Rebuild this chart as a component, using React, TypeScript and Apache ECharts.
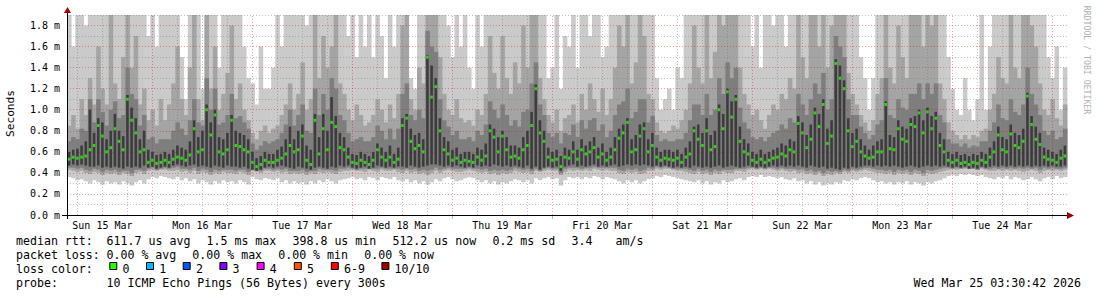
import React, { useEffect, useRef } from "react";
import * as echarts from "echarts";

// hours since Sun 15 Mar 00:00 of the first hourly sample
const startHour = 4;
const xMin = 3.5;
const xMax = 243.5;
const yMax = 1.9;

// median rtt (ms), one value per hour
const medianRtt = [
  0.53,0.55,0.54,0.55,0.56,0.62,0.66,0.85,0.75,0.60,0.64,0.82,0.70,0.62,1.10,0.90,0.78,0.60,0.62,0.50,0.52,0.49,0.50,0.52,
  0.50,0.53,0.55,0.54,0.52,0.57,0.82,0.60,0.62,1.00,0.76,0.95,0.60,0.58,0.62,0.90,0.66,0.65,0.62,0.60,0.50,0.46,0.48,0.52,
  0.50,0.50,0.52,0.54,0.58,0.66,0.60,0.62,0.75,0.52,0.48,0.90,0.58,0.82,0.62,0.88,0.84,0.64,0.62,0.55,0.50,0.49,0.52,0.50,
  0.48,0.52,0.62,0.55,0.52,0.55,0.50,0.53,0.85,0.92,0.70,0.63,0.66,0.60,1.50,1.12,1.22,0.80,0.62,0.58,0.52,0.54,0.50,0.52,
  0.51,0.50,0.55,0.52,0.56,0.80,0.74,0.60,0.75,0.62,0.55,0.56,0.54,0.62,0.66,0.85,1.20,0.78,0.70,0.55,0.52,0.53,0.46,0.55,
  0.54,0.60,0.53,0.62,0.58,0.60,0.64,0.55,0.58,0.52,0.55,0.62,0.73,0.78,0.88,0.60,0.62,0.75,0.82,0.60,0.66,0.55,0.52,0.54,
  0.53,0.52,0.54,0.50,0.55,0.58,0.80,0.72,0.66,0.80,0.62,0.65,1.00,0.82,1.17,0.93,1.10,0.70,0.60,0.58,0.52,0.50,0.53,0.50,
  0.52,0.54,0.55,0.58,0.56,0.62,0.60,0.87,0.78,0.64,0.72,0.97,0.84,1.05,0.68,0.75,1.44,1.30,1.20,0.80,0.65,0.70,0.60,0.56,
  0.54,0.55,0.60,0.60,1.05,0.63,0.62,0.82,0.72,0.70,0.86,0.84,0.97,0.78,0.98,0.82,0.92,0.66,0.60,0.52,0.50,0.52,0.49,0.50,
  0.48,0.50,0.49,0.52,0.50,0.55,0.60,0.76,0.62,0.60,0.77,0.66,0.64,0.70,1.13,0.86,0.72,0.67,0.55,0.53,0.52,0.50,0.54,0.56,
];

// smoke: sorted ping ranks (ms), one value per hour
const pingMin = [
  0.36,0.35,0.33,0.34,0.32,0.30,0.33,0.31,0.29,0.32,0.30,0.31,0.29,0.32,0.30,0.28,0.31,0.33,0.30,0.34,0.36,0.35,0.37,0.36,
  0.35,0.34,0.36,0.33,0.35,0.32,0.34,0.30,0.33,0.31,0.29,0.32,0.30,0.33,0.31,0.32,0.30,0.33,0.31,0.29,0.36,0.34,0.33,0.35,
  0.34,0.33,0.35,0.31,0.33,0.30,0.32,0.30,0.31,0.29,0.32,0.30,0.33,0.31,0.34,0.32,0.30,0.33,0.34,0.35,0.36,0.34,0.35,0.33,
  0.36,0.35,0.33,0.36,0.35,0.34,0.36,0.33,0.32,0.34,0.31,0.33,0.30,0.32,0.29,0.31,0.34,0.32,0.35,0.36,0.34,0.32,0.33,0.35,
  0.36,0.35,0.33,0.31,0.33,0.30,0.32,0.29,0.31,0.30,0.32,0.34,0.33,0.31,0.33,0.30,0.35,0.33,0.35,0.36,0.34,0.35,0.28,0.33,
  0.36,0.35,0.36,0.34,0.36,0.35,0.37,0.36,0.34,0.36,0.35,0.34,0.32,0.30,0.33,0.31,0.33,0.30,0.32,0.34,0.35,0.37,0.36,0.38,
  0.37,0.36,0.35,0.34,0.33,0.32,0.31,0.33,0.30,0.32,0.29,0.31,0.30,0.33,0.31,0.32,0.34,0.35,0.33,0.36,0.37,0.36,0.38,0.36,
  0.37,0.36,0.35,0.36,0.34,0.33,0.35,0.32,0.33,0.30,0.32,0.29,0.31,0.28,0.30,0.29,0.31,0.30,0.33,0.32,0.34,0.33,0.35,0.36,
  0.35,0.33,0.31,0.32,0.30,0.31,0.29,0.31,0.30,0.32,0.29,0.31,0.30,0.28,0.31,0.30,0.32,0.33,0.35,0.37,0.38,0.37,0.39,0.38,
  0.39,0.38,0.37,0.38,0.36,0.35,0.34,0.36,0.35,0.37,0.34,0.36,0.35,0.33,0.34,0.36,0.34,0.32,0.35,0.36,0.34,0.37,0.35,0.36,
];
const ping2 = [
  0.43,0.42,0.41,0.42,0.40,0.39,0.41,0.40,0.38,0.40,0.39,0.40,0.38,0.40,0.39,0.37,0.40,0.41,0.39,0.42,0.43,0.42,0.43,0.43,
  0.42,0.42,0.43,0.41,0.42,0.40,0.42,0.39,0.41,0.40,0.38,0.40,0.39,0.41,0.40,0.40,0.39,0.41,0.40,0.38,0.42,0.41,0.40,0.42,
  0.42,0.41,0.42,0.40,0.41,0.39,0.40,0.39,0.40,0.38,0.40,0.39,0.41,0.40,0.41,0.40,0.39,0.41,0.42,0.42,0.43,0.42,0.42,0.41,
  0.43,0.42,0.41,0.43,0.42,0.42,0.43,0.41,0.40,0.42,0.40,0.41,0.39,0.40,0.38,0.40,0.42,0.40,0.42,0.43,0.42,0.41,0.41,0.42,
  0.43,0.42,0.41,0.40,0.41,0.39,0.40,0.38,0.40,0.39,0.40,0.42,0.41,0.40,0.41,0.39,0.42,0.41,0.42,0.43,0.42,0.42,0.38,0.41,
  0.43,0.42,0.43,0.42,0.43,0.42,0.44,0.43,0.42,0.43,0.42,0.42,0.40,0.39,0.41,0.40,0.41,0.39,0.40,0.42,0.42,0.44,0.43,0.44,
  0.44,0.43,0.42,0.42,0.41,0.40,0.39,0.41,0.39,0.40,0.38,0.40,0.39,0.41,0.40,0.40,0.42,0.42,0.41,0.43,0.44,0.43,0.44,0.43,
  0.44,0.43,0.42,0.43,0.42,0.41,0.42,0.40,0.41,0.39,0.40,0.38,0.40,0.37,0.39,0.38,0.40,0.39,0.41,0.40,0.42,0.41,0.42,0.43,
  0.42,0.41,0.40,0.40,0.39,0.40,0.38,0.40,0.39,0.40,0.38,0.40,0.39,0.37,0.40,0.39,0.40,0.41,0.42,0.43,0.44,0.43,0.44,0.44,
  0.44,0.44,0.43,0.44,0.43,0.42,0.42,0.43,0.42,0.43,0.42,0.43,0.42,0.41,0.42,0.43,0.42,0.40,0.42,0.43,0.42,0.43,0.42,0.43,
];
const ping3 = [
  0.45,0.45,0.44,0.45,0.43,0.42,0.44,0.43,0.41,0.43,0.42,0.43,0.41,0.42,0.42,0.40,0.43,0.43,0.42,0.44,0.45,0.43,0.44,0.45,
  0.44,0.45,0.46,0.44,0.44,0.43,0.45,0.42,0.44,0.43,0.41,0.43,0.42,0.43,0.43,0.43,0.42,0.43,0.43,0.41,0.43,0.42,0.42,0.44,
  0.44,0.43,0.44,0.43,0.44,0.42,0.42,0.42,0.43,0.41,0.42,0.42,0.44,0.43,0.43,0.43,0.42,0.44,0.44,0.45,0.44,0.43,0.44,0.44,
  0.44,0.44,0.44,0.45,0.44,0.44,0.44,0.44,0.43,0.44,0.43,0.44,0.42,0.43,0.42,0.43,0.45,0.43,0.44,0.45,0.44,0.44,0.44,0.44,
  0.45,0.44,0.44,0.43,0.44,0.42,0.43,0.42,0.43,0.42,0.43,0.45,0.44,0.43,0.44,0.42,0.44,0.42,0.44,0.45,0.44,0.44,0.40,0.44,
  0.45,0.45,0.45,0.44,0.45,0.45,0.46,0.45,0.45,0.45,0.45,0.45,0.43,0.42,0.44,0.43,0.44,0.42,0.43,0.45,0.44,0.46,0.45,0.46,
  0.45,0.44,0.44,0.44,0.44,0.43,0.42,0.44,0.42,0.43,0.41,0.43,0.42,0.43,0.43,0.43,0.44,0.44,0.44,0.45,0.45,0.44,0.45,0.44,
  0.45,0.45,0.44,0.45,0.44,0.44,0.44,0.43,0.44,0.42,0.43,0.41,0.42,0.40,0.42,0.41,0.42,0.41,0.43,0.42,0.44,0.43,0.44,0.45,
  0.45,0.44,0.43,0.43,0.42,0.43,0.41,0.43,0.42,0.43,0.41,0.43,0.42,0.40,0.43,0.42,0.43,0.44,0.45,0.45,0.44,0.45,0.44,0.45,
  0.44,0.44,0.43,0.45,0.44,0.44,0.45,0.44,0.45,0.44,0.45,0.44,0.45,0.44,0.45,0.44,0.45,0.43,0.45,0.44,0.45,0.44,0.44,0.45,
];
const ping4 = [
  0.47,0.48,0.47,0.48,0.47,0.46,0.46,0.47,0.45,0.46,0.45,0.46,0.45,0.44,0.46,0.45,0.46,0.45,0.47,0.45,0.46,0.44,0.45,0.46,
  0.45,0.47,0.48,0.47,0.46,0.47,0.48,0.46,0.47,0.46,0.45,0.47,0.46,0.45,0.47,0.46,0.46,0.45,0.46,0.44,0.43,0.42,0.43,0.45,
  0.46,0.45,0.46,0.47,0.46,0.45,0.44,0.46,0.45,0.44,0.43,0.45,0.46,0.45,0.44,0.46,0.45,0.47,0.46,0.47,0.45,0.44,0.45,0.46,
  0.44,0.45,0.47,0.46,0.45,0.46,0.45,0.46,0.46,0.45,0.47,0.46,0.45,0.46,0.47,0.48,0.48,0.47,0.46,0.47,0.46,0.47,0.46,0.45,
  0.46,0.45,0.47,0.46,0.47,0.46,0.48,0.47,0.46,0.47,0.46,0.47,0.46,0.45,0.47,0.44,0.46,0.43,0.45,0.46,0.45,0.46,0.42,0.46,
  0.47,0.48,0.46,0.47,0.46,0.47,0.48,0.46,0.47,0.46,0.47,0.48,0.46,0.47,0.48,0.47,0.48,0.47,0.48,0.47,0.46,0.47,0.46,0.47,
  0.46,0.45,0.46,0.45,0.46,0.45,0.47,0.46,0.45,0.46,0.45,0.46,0.47,0.45,0.46,0.47,0.46,0.45,0.46,0.47,0.46,0.45,0.46,0.45,
  0.46,0.47,0.46,0.47,0.46,0.47,0.46,0.47,0.46,0.45,0.47,0.46,0.45,0.46,0.44,0.45,0.44,0.43,0.45,0.44,0.46,0.45,0.46,0.47,
  0.47,0.46,0.47,0.46,0.47,0.46,0.47,0.46,0.45,0.46,0.47,0.46,0.45,0.46,0.47,0.46,0.47,0.46,0.47,0.46,0.45,0.46,0.45,0.46,
  0.44,0.45,0.44,0.46,0.45,0.46,0.47,0.46,0.47,0.46,0.47,0.46,0.47,0.46,0.47,0.46,0.47,0.46,0.47,0.46,0.47,0.46,0.46,0.47,
];
const ping7 = [
  0.60,0.62,0.63,0.66,0.70,1.00,0.78,0.92,0.88,0.72,0.80,0.96,0.80,0.75,1.14,1.02,0.92,0.72,0.80,0.62,0.60,0.57,0.58,0.60,
  0.58,0.62,0.66,0.64,0.62,0.70,0.90,0.74,0.80,1.05,0.88,1.00,0.74,0.72,0.78,0.95,0.80,0.78,0.76,0.72,0.60,0.54,0.56,0.60,
  0.58,0.58,0.62,0.65,0.72,0.84,0.72,0.80,0.86,0.66,0.62,0.96,0.74,0.96,0.80,1.12,0.94,0.78,0.74,0.64,0.58,0.57,0.60,0.58,
  0.56,0.60,0.68,0.64,0.60,0.66,0.58,0.64,0.92,0.96,0.82,0.76,0.78,0.72,1.52,1.42,1.30,0.92,0.74,0.70,0.62,0.64,0.58,0.60,
  0.60,0.58,0.64,0.62,0.68,0.86,0.82,0.74,0.80,0.74,0.66,0.66,0.64,0.74,0.80,0.98,1.24,0.90,0.80,0.64,0.60,0.62,0.56,0.64,
  0.62,0.70,0.62,0.72,0.66,0.70,0.74,0.64,0.68,0.60,0.64,0.74,0.82,0.86,0.92,0.72,0.76,0.86,0.88,0.72,0.78,0.64,0.60,0.62,
  0.62,0.60,0.62,0.58,0.64,0.70,0.84,0.86,0.78,0.92,0.76,0.80,1.05,0.96,1.20,1.08,1.14,0.84,0.72,0.68,0.60,0.58,0.62,0.58,
  0.60,0.62,0.64,0.68,0.66,0.72,0.70,0.94,0.88,0.76,0.86,1.02,0.96,1.10,0.82,0.90,1.48,1.42,1.28,0.92,0.78,0.82,0.72,0.66,
  0.62,0.66,0.70,0.72,1.08,0.76,0.74,0.90,0.84,0.82,0.92,0.94,1.00,0.90,1.02,0.94,0.98,0.78,0.72,0.60,0.58,0.60,0.57,0.58,
  0.56,0.58,0.57,0.60,0.58,0.64,0.70,0.84,0.74,0.72,0.86,0.78,0.76,0.82,1.16,0.94,0.84,0.78,0.64,0.62,0.60,0.58,0.62,0.66,
];
const ping8 = [
  0.70,0.74,0.72,0.82,0.80,1.10,0.88,1.10,0.98,0.85,1.00,1.08,0.92,0.95,1.40,1.15,1.10,0.85,0.95,0.72,0.74,0.68,0.72,0.72,
  0.72,0.80,0.88,0.82,0.76,0.90,1.10,0.88,0.85,1.30,1.00,1.20,0.86,0.88,0.95,1.15,0.92,0.94,0.88,0.82,0.68,0.62,0.66,0.70,
  0.68,0.70,0.72,0.78,0.86,1.00,0.85,0.95,1.05,0.80,0.78,1.20,0.95,1.15,1.00,1.30,1.20,0.95,0.90,0.78,0.70,0.72,0.74,0.70,
  0.70,0.74,0.85,0.80,0.72,0.82,0.72,0.82,1.15,1.25,0.95,0.90,1.00,0.92,1.75,1.60,1.55,1.10,0.90,0.84,0.76,0.80,0.72,0.72,
  0.74,0.70,0.80,0.76,0.86,1.08,1.00,0.92,1.05,0.95,0.85,0.90,0.84,0.98,1.00,1.25,1.45,1.05,0.95,0.78,0.74,0.78,0.68,0.78,
  0.76,0.86,0.74,0.90,0.82,0.90,0.92,0.80,0.86,0.74,0.80,0.95,1.05,1.08,1.20,0.92,0.98,1.10,1.10,0.88,0.94,0.76,0.70,0.72,
  0.70,0.70,0.72,0.72,0.78,0.90,1.05,1.05,0.95,1.15,0.95,1.00,1.30,1.15,1.45,1.30,1.40,1.02,0.88,0.82,0.74,0.72,0.74,0.70,
  0.74,0.78,0.80,0.86,0.82,0.92,0.88,1.15,1.05,0.95,1.10,1.25,1.15,1.35,1.00,1.10,1.70,1.60,1.50,1.10,0.95,0.95,0.84,0.78,
  0.72,0.76,0.86,0.90,1.30,0.95,0.92,1.10,1.02,1.00,1.15,1.15,1.25,1.10,1.25,1.15,1.25,0.95,0.88,0.72,0.68,0.68,0.65,0.68,
  0.64,0.66,0.65,0.70,0.70,0.80,0.88,1.05,0.92,0.90,1.10,0.98,0.95,1.05,1.40,1.15,1.05,0.95,0.80,0.76,0.80,0.72,0.74,0.82,
];
const ping9 = [
  0.85,0.95,0.82,1.10,0.95,1.30,1.05,1.60,1.20,1.05,2.20,1.25,1.10,1.50,2.20,1.40,1.70,1.05,1.20,0.90,1.00,0.85,1.10,0.90,
  1.05,1.25,1.60,1.10,0.95,1.40,2.20,1.10,0.90,2.20,1.20,1.60,1.00,1.15,1.35,1.80,1.10,1.25,1.00,0.90,0.78,0.72,0.80,0.85,
  0.78,0.82,0.85,0.95,1.05,1.25,1.00,1.15,1.45,1.00,1.10,2.20,1.30,1.70,1.40,1.60,2.20,1.25,1.15,1.00,0.90,1.05,0.95,0.85,
  0.88,0.95,1.10,1.00,0.88,1.05,0.92,1.15,1.80,2.20,1.10,1.00,1.40,1.25,2.20,2.20,2.20,1.50,1.15,1.00,0.95,1.10,0.92,0.88,
  0.90,0.85,1.00,0.95,1.15,1.70,1.35,1.20,1.70,1.30,1.15,1.45,1.25,1.80,1.40,2.20,2.20,1.30,1.10,0.95,0.88,1.00,0.80,0.92,
  0.95,1.05,0.88,1.15,1.00,1.25,1.10,0.98,1.20,0.95,1.10,1.40,1.80,1.60,2.20,1.25,1.45,1.90,1.70,1.15,1.10,0.88,0.80,0.78,
  0.80,0.85,0.82,0.90,1.00,1.25,1.80,1.40,1.25,2.20,1.30,1.55,2.20,1.80,2.20,2.20,2.20,1.40,1.15,1.05,0.95,1.00,0.90,0.82,
  0.95,1.05,1.00,1.15,1.10,1.30,1.20,1.90,1.50,1.30,2.20,2.20,1.60,2.20,1.40,1.80,2.20,2.20,2.20,1.35,1.15,1.05,0.95,0.88,
  0.80,0.90,1.15,1.30,2.20,1.40,1.25,1.80,1.50,1.30,2.20,1.90,2.20,1.60,2.20,1.80,2.20,1.25,1.10,0.88,0.80,0.76,0.72,0.76,
  0.72,0.76,0.74,0.80,0.82,1.00,1.15,1.50,1.30,1.25,2.20,1.40,1.30,1.90,2.20,1.80,1.60,1.25,1.00,0.95,1.10,0.92,0.85,1.05,
];
const pingMax = [
  2.2,1.6,2.2,2.2,1.8,2.2,2.2,2.2,2.2,1.9,2.2,2.2,2.2,2.2,2.2,2.2,2.2,2.2,2.2,1.7,2.2,1.6,2.2,2.2,
  2.2,2.2,2.2,1.5,1.1,2.2,2.2,2.2,1.2,2.2,2.2,2.2,1.4,2.2,2.2,2.2,2.2,2.2,1.6,1.3,1.25,1.05,1.6,1.2,
  1.2,1.4,2.2,1.6,2.2,2.2,1.9,2.2,2.2,1.8,2.2,2.2,2.2,2.2,2.2,2.2,2.2,2.2,2.2,1.7,2.2,1.5,2.2,1.6,
  2.2,1.5,2.2,1.7,1.3,2.2,1.6,2.2,2.2,2.2,1.3,1.2,2.2,2.2,2.2,2.2,2.2,2.2,2.2,1.8,1.5,2.2,1.6,1.9,
  1.4,1.2,2.2,1.6,2.2,2.2,2.2,2.2,2.2,2.2,1.9,2.2,2.2,2.2,2.2,2.2,2.2,2.2,2.2,1.3,1.4,2.2,1.2,1.7,
  1.6,2.2,1.4,2.2,2.2,1.7,2.2,2.2,1.5,1.6,2.2,2.2,2.2,2.2,2.2,2.2,2.2,2.2,2.2,2.2,2.2,1.3,1.0,1.1,
  1.2,1.0,1.4,1.3,2.2,2.2,2.2,2.2,2.2,2.2,2.2,2.2,2.2,2.2,2.2,2.2,2.2,2.2,2.2,2.2,1.6,1.9,1.4,2.2,
  2.2,1.8,2.2,2.2,1.6,2.2,2.2,2.2,2.2,2.2,2.2,2.2,2.2,2.2,2.2,2.2,2.2,2.2,2.2,2.2,2.2,1.9,1.5,1.3,
  1.0,1.3,2.2,2.2,2.2,2.2,2.2,2.2,2.2,2.2,2.2,2.2,2.2,2.2,2.2,2.2,2.2,2.2,2.2,1.5,1.2,1.0,0.95,1.3,
  1.0,0.9,1.1,2.2,1.0,1.6,2.2,2.2,2.2,2.2,2.2,2.2,2.2,2.2,2.2,2.2,2.2,2.2,2.2,1.5,1.3,1.6,1.0,1.4,
];

const dayLabels = ["Sun 15 Mar","Mon 16 Mar","Tue 17 Mar","Wed 18 Mar","Thu 19 Mar","Fri 20 Mar","Sat 21 Mar","Sun 22 Mar","Mon 23 Mar","Tue 24 Mar"];
const dayNoonHours = [12,36,60,84,108,132,156,180,204,228];
const dayBoundaryHours = [24,48,72,96,120,144,168,192,216,240];
const quarterDayHours = [6,12,18,30,36,42,54,60,66,78,84,90,102,108,114,126,132,138,150,156,162,174,180,186,198,204,210,222,228,234];
const yMajorLines = [0.2,0.4,0.6,0.8,1.0,1.2,1.4,1.6,1.8];
const yMinorLines = [0.1,0.3,0.5,0.7,0.9,1.1,1.3,1.5,1.7,1.9];

const legendRtt = [
  { t: "median rtt:", x: 16 },
  { t: "611.7 us avg", x: 106.6 },
  { t: "1.5 ms max", x: 206.5 },
  { t: "398.8 us min", x: 292.5 },
  { t: "512.2 us now", x: 392.4 },
  { t: "0.2 ms sd", x: 492.4 },
  { t: "3.4", x: 571.5 },
  { t: "am/s", x: 615.6 },
];
const legendLoss = [
  { t: "packet loss:", x: 16 },
  { t: "0.00 % avg", x: 106.5 },
  { t: "0.00 % max", x: 192.3 },
  { t: "0.00 % min", x: 278.2 },
  { t: "0.00 % now", x: 364.2 },
];
const lossColors = [
  { t: "0", c: "#26ff00", x: 109.3 },
  { t: "1", c: "#00b8ff", x: 146.0 },
  { t: "2", c: "#0059ff", x: 182.7 },
  { t: "3", c: "#7e00ff", x: 219.4 },
  { t: "4", c: "#ff00ff", x: 256.6 },
  { t: "5", c: "#ff5500", x: 293.8 },
  { t: "6-9", c: "#ff0000", x: 330.8 },
  { t: "10/10", c: "#a10000", x: 381.4 },
];

const MONO = '"DejaVu Sans Mono", "Liberation Mono", monospace';

function txt(text: string, x: number, y: number, size: number, extra: any = {}) {
  return {
    type: "text",
    x,
    y,
    z: 100,
    silent: true,
    ...extra,
    style: {
      text,
      font: `${size}px ${MONO}`,
      fill: extra.fill || "#000",
      align: extra.align || "left",
      textAlign: extra.align || "left",
      verticalAlign: "middle",
      textVerticalAlign: "middle",
    },
  };
}

// one rect per hour between two ping ranks; widthFrac narrows the darker core bars
function band(name: string, lo: number[], hi: number[], color: string, z: number, widthFrac = 1) {
  return {
    type: "custom",
    name,
    z,
    silent: true,
    data: lo.map((v, i) => [startHour + i, v, hi[i]]),
    encode: { x: 0, y: [1, 2] },
    renderItem: (params: any, api: any) => {
      const x = api.value(0);
      const l = api.value(1);
      const h = Math.min(api.value(2), yMax);
      const half = widthFrac / 2;
      const a = api.coord([x - half, l]);
      const b = api.coord([x + half, h]);
      return {
        type: "rect",
        shape: { x: a[0], y: b[1], width: b[0] - a[0] + (widthFrac === 1 ? 0.4 : 0), height: a[1] - b[1] },
        style: { fill: color },
      };
    },
  };
}

export default function App() {
  const ref = useRef<HTMLDivElement>(null);
  useEffect(() => {
    document.body.style.margin = "0";
    const chart = echarts.init(ref.current!, null, { renderer: "svg" });
    const majorColor = "rgba(225,0,0,0.38)";
    const minorColor = "rgba(120,120,120,0.45)";
    const dash = [1, 2];
    const gridMarks: any[] = [];
    yMinorLines.forEach((v) => gridMarks.push({ yAxis: v, lineStyle: { color: minorColor, type: dash, width: 1 } }));
    quarterDayHours.forEach((v) => gridMarks.push({ xAxis: v, lineStyle: { color: minorColor, type: dash, width: 1 } }));
    yMajorLines.forEach((v) => gridMarks.push({ yAxis: v, lineStyle: { color: majorColor, type: dash, width: 1 } }));
    dayBoundaryHours.forEach((v) => gridMarks.push({ xAxis: v, lineStyle: { color: majorColor, type: dash, width: 1 } }));

    const graphics: any[] = [
      { type: "line", z: 100, silent: true, shape: { x1: 62, y1: 215.5, x2: 1068, y2: 215.5 }, style: { stroke: "#000", lineWidth: 1 } },
      { type: "line", z: 100, silent: true, shape: { x1: 67.5, y1: 219, x2: 67.5, y2: 12 }, style: { stroke: "#000", lineWidth: 1 } },
      { type: "polygon", z: 101, silent: true, shape: { points: [[1067, 212], [1074, 215.5], [1067, 219]] }, style: { fill: "#a00000" } },
      { type: "polygon", z: 101, silent: true, shape: { points: [[64, 13], [67.5, 7], [71, 13]] }, style: { fill: "#a00000" } },
      txt("Seconds", 10.5, 113.5, 11.2, { rotation: Math.PI / 2, align: "center" }),
      txt("RRDTOOL / TOBI OETIKER", 1087, 60, 8.2, { rotation: -Math.PI / 2, align: "center", fill: "#b0b0b0" }),
    ];
    legendRtt.forEach((it) => graphics.push(txt(it.t, it.x, 240.5, 11.6)));
    legendLoss.forEach((it) => graphics.push(txt(it.t, it.x, 254.7, 11.6)));
    graphics.push(txt("loss color:", 16, 268.8, 11.6));
    lossColors.forEach((it) => {
      graphics.push({
        type: "rect", z: 100, silent: true,
        shape: { x: it.x + 0.5, y: 262.5, width: 7, height: 7 },
        style: { fill: it.c, stroke: "#000", lineWidth: 1 },
      });
      graphics.push(txt(it.t, it.x + 13.2, 268.8, 11.6));
    });
    graphics.push(txt("probe:", 16, 283, 11.6));
    graphics.push(txt("10 ICMP Echo Pings (56 Bytes) every 300s", 106.5, 283, 11.6));
    graphics.push(txt("Wed Mar 25 03:30:42 2026", 913.5, 283, 11.6));

    chart.setOption({
      animation: false,
      backgroundColor: "#ffffff",
      grid: { left: 67, top: 15, width: 1000, height: 200, containLabel: false },
      xAxis: {
        type: "value",
        min: xMin,
        max: xMax,
        splitLine: { show: false },
        axisLine: { show: false },
        axisTick: {
          show: true,
          customValues: dayBoundaryHours,
          length: 4,
          lineStyle: { color: majorColor, width: 1 },
        },
        axisLabel: {
          customValues: dayNoonHours,
          formatter: (v: number) => {
            const k = dayNoonHours.indexOf(Math.round(v));
            return k >= 0 ? dayLabels[k] : "";
          },
          fontFamily: MONO,
          fontSize: 10,
          color: "#000",
          margin: 5,
        },
      },
      yAxis: {
        type: "value",
        min: 0,
        max: yMax,
        interval: 0.2,
        splitLine: { show: false },
        axisLine: { show: false },
        axisTick: { show: false },
        axisLabel: {
          formatter: (v: number) => (Math.round(v * 10) % 2 === 0 ? v.toFixed(1) + " m" : ""),
          fontFamily: MONO,
          fontSize: 10,
          color: "#000",
          margin: 7,
        },
      },
      graphic: graphics,
      series: [
        band("smoke-1-10", pingMin, pingMax, "#cacaca", 2),
        band("smoke-2-9", ping2, ping9, "#a4a4a4", 3),
        band("smoke-3-8", ping3, ping8, "#7e7e7e", 4),
        band("smoke-4-7", ping4, ping7, "#3c3c3c", 5, 0.62),
        {
          type: "scatter",
          name: "median",
          z: 6,
          silent: true,
          symbol: "rect",
          symbolSize: [2.5, 3],
          itemStyle: { color: "#26ff00" },
          data: medianRtt.map((v, i) => [startHour + i, v]),
        },
        {
          type: "line",
          name: "grid",
          z: 8,
          silent: true,
          showSymbol: false,
          lineStyle: { width: 0 },
          data: [[xMin, 0]],
          markLine: {
            silent: true,
            symbol: ["none", "none"],
            label: { show: false },
            animation: false,
            data: gridMarks,
          },
        },
      ],
    });
    return () => chart.dispose();
  }, []);
  return <div ref={ref} style={{ width: 1097, height: 297, background: "#fff" }} />;
}
